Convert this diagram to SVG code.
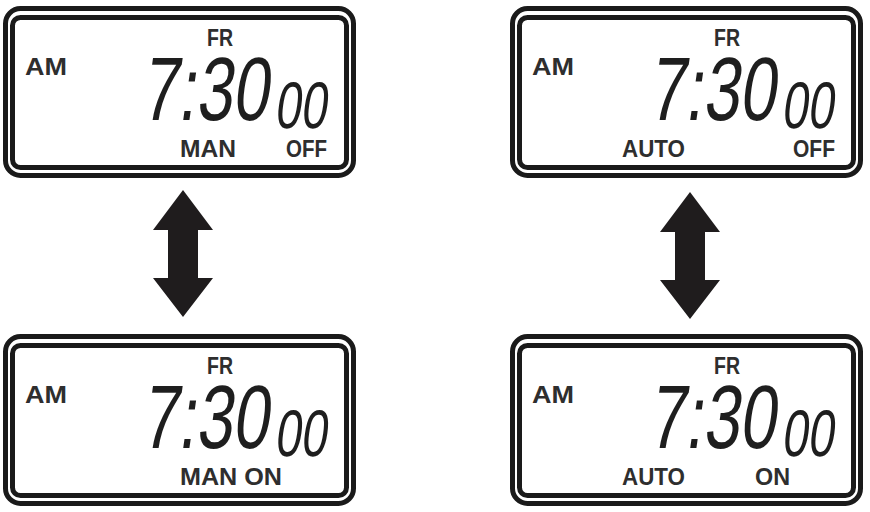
<svg xmlns="http://www.w3.org/2000/svg" width="870" height="512" viewBox="0 0 870 512">
  <style>
    .outer { fill: none; stroke: #1a1a1a; stroke-width: 5; }
    .inner { fill: #ffffff; stroke: #1a1a1a; stroke-width: 5; }
    .lbl { font-family: "Liberation Sans", Arial, sans-serif; font-weight: bold; font-size: 23px; fill: #2e2e2e; }
    .big { font-family: "Liberation Sans", Arial, sans-serif; font-size: 90px; fill: #1e1e1e; }
    .small { font-family: "Liberation Sans", Arial, sans-serif; font-size: 66px; fill: #1e1e1e; }
    .arrow { fill: #1f1c1d; }
  </style>
  <defs>
    <g id="frame">
      <rect class="outer" x="5.5" y="8.5" width="348" height="167" rx="15"/>
      <rect class="inner" x="12.5" y="17.5" width="334" height="150" rx="8"/>
    </g>
    <g id="clock">
      <text class="big" transform="translate(141,120) skewX(-8)" x="0" y="0" textLength="127" lengthAdjust="spacingAndGlyphs">7:30</text>
      <text class="small" transform="translate(274,128) skewX(-8)" x="0" y="0" textLength="52" lengthAdjust="spacingAndGlyphs">00</text>
      <text class="lbl" x="25" y="75" textLength="42" lengthAdjust="spacingAndGlyphs">AM</text>
      <text class="lbl" x="207" y="46" textLength="26" lengthAdjust="spacingAndGlyphs">FR</text>
    </g>
  </defs>

  <g id="panel-man-off">
    <use href="#frame"/>
    <use href="#clock"/>
    <text class="lbl" x="180" y="157" textLength="56" lengthAdjust="spacingAndGlyphs">MAN</text>
    <text class="lbl" x="286" y="157" textLength="41" lengthAdjust="spacingAndGlyphs">OFF</text>
  </g>

  <g id="panel-man-on" transform="translate(0,328)">
    <use href="#frame"/>
    <use href="#clock"/>
    <text class="lbl" x="180" y="157" textLength="102" lengthAdjust="spacingAndGlyphs">MAN ON</text>
  </g>

  <g id="panel-auto-off" transform="translate(507,0)">
    <use href="#frame"/>
    <use href="#clock"/>
    <text class="lbl" x="115" y="157" textLength="63" lengthAdjust="spacingAndGlyphs">AUTO</text>
    <text class="lbl" x="286" y="157" textLength="42" lengthAdjust="spacingAndGlyphs">OFF</text>
  </g>

  <g id="panel-auto-on" transform="translate(507,328)">
    <use href="#frame"/>
    <use href="#clock"/>
    <text class="lbl" x="115" y="157" textLength="63" lengthAdjust="spacingAndGlyphs">AUTO</text>
    <text class="lbl" x="248" y="157" textLength="35" lengthAdjust="spacingAndGlyphs">ON</text>
  </g>

  <g id="connectors">
    <polygon class="arrow" points="183,190 213,230 198,230 198,278 213,278 183,317 153,278 168,278 168,230 153,230"/>
    <polygon class="arrow" points="690,192 720,232 705,232 705,280 720,280 690,319 660,280 675,280 675,232 660,232"/>
  </g>
</svg>
